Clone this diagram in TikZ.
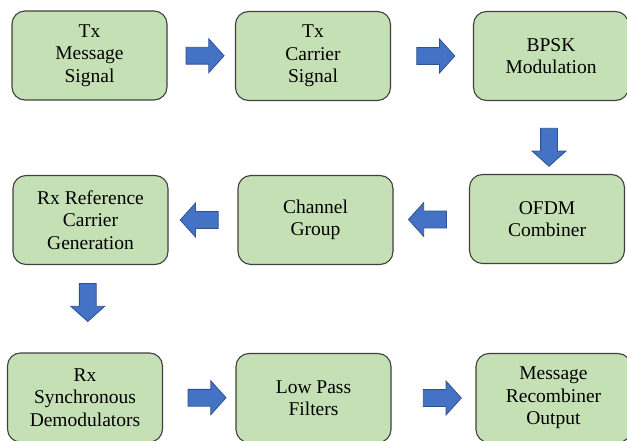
\documentclass[tikz,border=0pt]{standalone}
\usepackage{fontspec}
\setmainfont{Liberation Serif}
\usetikzlibrary{calc,shapes.arrows}
\definecolor{boxgreen}{HTML}{C5E0B4}
\definecolor{arrowblue}{HTML}{4472C4}
\definecolor{arrowedge}{HTML}{2F528F}

\begin{document}
\begin{tikzpicture}[x=1pt, y=-1pt, font=\rmfamily\fontsize{19.5}{22.5}\selectfont,
  block/.style={draw=black!75, line width=1.1pt, fill=boxgreen, rounded corners=13pt, minimum width=155pt, minimum height=89pt, align=center, inner sep=2pt},
  barrow/.style={single arrow, draw=arrowedge, line width=0.8pt, fill=arrowblue, inner xsep=0pt, inner ysep=8pt, single arrow head extend=8.5pt, single arrow tip angle=96, minimum height=38pt, minimum width=0pt}]
\useasboundingbox (0,0) rectangle (627,441);
% transmitter chain
\node[block] (txmsg) at (89.5,55.5) {Tx\\Message\\Signal}; \node[block] (txcar) at (313,56) {Tx\\Carrier\\Signal}; \node[block] (bpsk) at (551,56) {BPSK\\Modulation};
% channel and reference
\node[block] (rxref) at (90.5,220) {Rx Reference\\Carrier\\Generation}; \node[block] (chan) at (315.5,220) {Channel\\Group}; \node[block] (ofdm) at (547,219) {OFDM\\Combiner};
% receiver chain
\node[block] (rxdem) at (85,397.5) {Rx\\Synchronous\\Demodulators}; \node[block] (lpf) at (313.5,398) {Low Pass\\Filters}; \node[block] (msgout) at (553.5,398) {Message\\Recombiner\\Output};
% block arrows between the stages
\node[barrow] (a1) at ($(txmsg.east)!.5!(txcar.west)$) {}; \node[barrow] (a2) at ($(txcar.east)!.5!(bpsk.west)$) {};
\node[barrow, rotate=270, xshift=6pt] (a3) at ($(bpsk.south)!.5!(ofdm.north)$) {};
\node[barrow, rotate=180] (a4) at ($(ofdm.west)!.5!(chan.east)$) {}; \node[barrow, rotate=180] (a5) at ($(chan.west)!.5!(rxref.east)$) {};
\node[barrow, rotate=270, xshift=-10pt] (a6) at ($(rxref.south)!.5!(rxdem.north)$) {};
\node[barrow, xshift=4pt] (a7) at ($(rxdem.east)!.5!(lpf.west)$) {}; \node[barrow, xshift=5pt] (a8) at ($(lpf.east)!.5!(msgout.west)$) {};
\end{tikzpicture}
\end{document}
